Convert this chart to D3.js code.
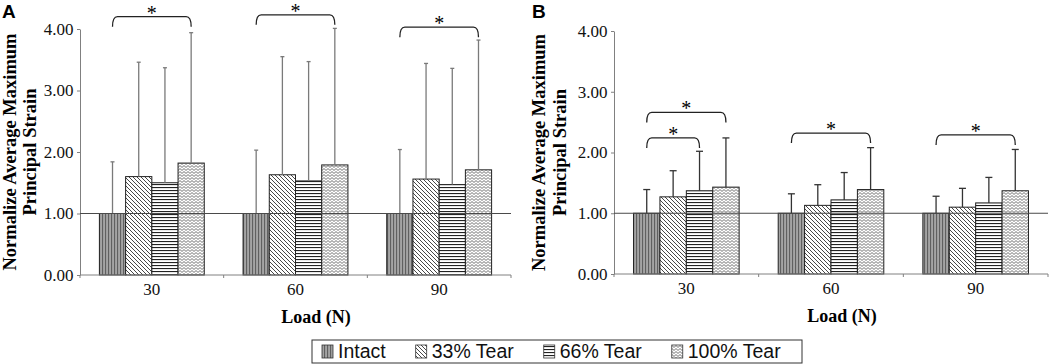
<!DOCTYPE html>
<html>
<head>
<meta charset="utf-8">
<script src="https://cdn.jsdelivr.net/npm/d3@7"></script>
<style>
  body { margin: 0; background: #fff; }
  svg { display: block; }
</style>
</head>
<body>
<div id="chart"></div>
<script>
/* DATA */
const loads = ["30", "60", "90"];
const groups = ["Intact", "33% Tear", "66% Tear", "100% Tear"];
const yTicks = [0, 1, 2, 3, 4];

// panel A: mean and SD per load (rows) and tear group (columns)
const meanA = [
  [1.00, 1.60, 1.50, 1.82],
  [1.00, 1.63, 1.53, 1.79],
  [1.00, 1.56, 1.47, 1.71]
];
const sdA = [
  [0.84, 1.86, 1.87, 2.12],
  [1.03, 1.92, 1.94, 2.22],
  [1.04, 1.88, 1.89, 2.11]
];
// panel B
const meanB = [
  [1.00, 1.27, 1.37, 1.43],
  [1.00, 1.13, 1.22, 1.39],
  [1.00, 1.10, 1.17, 1.37]
];
const sdB = [
  [0.39, 0.43, 0.65, 0.81],
  [0.32, 0.34, 0.45, 0.69],
  [0.28, 0.31, 0.42, 0.68]
];
// significance brackets (group index from -> to, level in strain units)
const sigA = [
  { load: "30", from: 0, to: 3, level: 4.20 },
  { load: "60", from: 0, to: 3, level: 4.23 },
  { load: "90", from: 0, to: 3, level: 4.03 }
];
const sigB = [
  { load: "30", from: 0, to: 2, level: 2.24 },
  { load: "30", from: 0, to: 3, level: 2.66 },
  { load: "60", from: 0, to: 3, level: 2.32 },
  { load: "90", from: 0, to: 3, level: 2.29 }
];

/* CONSTANTS */
const width = 1050, height = 364;
const serif = "'Liberation Serif', 'Times New Roman', serif";
const sans = "'Liberation Sans', Arial, sans-serif";
const fills = ["url(#pIntact)", "url(#p33)", "url(#p66)", "url(#p100)"];

const svg = d3.select("#chart").append("svg")
  .attr("width", width)
  .attr("height", height);

/* PATTERNS */
const defs = svg.append("defs");

const pIntact = defs.append("pattern").attr("id", "pIntact")
  .attr("patternUnits", "userSpaceOnUse").attr("width", 3).attr("height", 3);
pIntact.append("rect").attr("width", 3).attr("height", 3).attr("fill", "#a4a4a4");
pIntact.append("rect").attr("width", 1.1).attr("height", 3).attr("fill", "#606060");

const p33 = defs.append("pattern").attr("id", "p33")
  .attr("patternUnits", "userSpaceOnUse").attr("width", 4).attr("height", 4);
p33.append("rect").attr("width", 4).attr("height", 4).attr("fill", "#fff");
p33.append("path").attr("d", "M-1,-1L5,5M3,-1L5,1M-1,3L1,5")
  .attr("stroke", "#333").attr("stroke-width", 0.9);

const p66 = defs.append("pattern").attr("id", "p66")
  .attr("patternUnits", "userSpaceOnUse").attr("width", 4).attr("height", 3);
p66.append("rect").attr("width", 4).attr("height", 3).attr("fill", "#fff");
p66.append("rect").attr("y", 1).attr("width", 4).attr("height", 1.1).attr("fill", "#222");

const p100 = defs.append("pattern").attr("id", "p100")
  .attr("patternUnits", "userSpaceOnUse").attr("width", 4).attr("height", 3);
p100.append("rect").attr("width", 4).attr("height", 3).attr("fill", "#fff");
p100.append("path").attr("d", "M-1,2.5L0,0.5L2,2.5L4,0.5L5,2.5")
  .attr("fill", "none").attr("stroke", "#6a6a6a").attr("stroke-width", 1);

/* PANELS */
drawPanel({
  letter: "A", letterX: 2, means: meanA, sds: sdA, sig: sigA,
  x0: 80, x1: 511, yTop: 29, yBot: 275,
  titleX: [9.5, 30], loadX: 316, errColor: "#7a7a7a", capW: 4
});
drawPanel({
  letter: "B", letterX: 532, means: meanB, sds: sdB, sig: sigB,
  x0: 614, x1: 1048, yTop: 31, yBot: 274,
  titleX: [538.5, 560], loadX: 842, errColor: "#333", capW: 7
});

function drawPanel(p) {
  const g = svg.append("g");

  const xScale = d3.scaleBand().domain(loads).range([p.x0, p.x1]);
  const xInner = d3.scaleBand().domain(d3.range(groups.length))
    .range([0, xScale.bandwidth()]).paddingOuter(0.74);
  const yScale = d3.scaleLinear().domain([0, 4]).range([p.yBot, p.yTop]);

  // y axis
  const yAxis = d3.axisLeft(yScale).tickValues(yTicks)
    .tickFormat(d3.format(".2f")).tickSizeInner(3).tickSizeOuter(0).tickPadding(3.5);
  const ya = g.append("g").attr("transform", `translate(${p.x0},0)`).call(yAxis);
  ya.selectAll("path, line").attr("stroke", "#808080");
  ya.selectAll("text").attr("font-family", serif).attr("font-size", 17).attr("fill", "#111");

  // bars
  const rows = loads.flatMap((l, i) => groups.map((s, j) => ({
    load: l, j, mean: p.means[i][j], sd: p.sds[i][j]
  })));

  g.selectAll("rect.bar").data(rows).join("rect")
    .attr("class", "bar")
    .attr("x", d => xScale(d.load) + xInner(d.j))
    .attr("width", xInner.bandwidth())
    .attr("y", d => yScale(d.mean))
    .attr("height", d => yScale(0) - yScale(d.mean))
    .attr("fill", d => fills[d.j])
    .attr("stroke", "#222").attr("stroke-width", 1);

  // error bars (upper only)
  const cx = d => xScale(d.load) + xInner(d.j) + xInner.bandwidth() / 2;
  g.selectAll("line.err").data(rows).join("line")
    .attr("class", "err")
    .attr("x1", cx).attr("x2", cx)
    .attr("y1", d => yScale(d.mean)).attr("y2", d => yScale(d.mean + d.sd))
    .attr("stroke", p.errColor).attr("stroke-width", 1.3);
  g.selectAll("line.cap").data(rows).join("line")
    .attr("class", "cap")
    .attr("x1", d => cx(d) - p.capW / 2).attr("x2", d => cx(d) + p.capW / 2)
    .attr("y1", d => yScale(d.mean + d.sd)).attr("y2", d => yScale(d.mean + d.sd))
    .attr("stroke", p.errColor).attr("stroke-width", 1.3);

  // reference line at 1.00
  g.append("line")
    .attr("x1", p.x0).attr("x2", p.x1)
    .attr("y1", yScale(1)).attr("y2", yScale(1))
    .attr("stroke", "#4a4a4a").attr("stroke-width", 1);

  // x axis
  g.append("line")
    .attr("x1", p.x0).attr("x2", p.x1)
    .attr("y1", yScale(0)).attr("y2", yScale(0))
    .attr("stroke", "#808080").attr("stroke-width", 1);
  const bounds = loads.map(l => xScale(l)).concat([p.x1]);
  g.selectAll("line.xt").data(bounds).join("line")
    .attr("class", "xt")
    .attr("x1", d => d).attr("x2", d => d)
    .attr("y1", yScale(0)).attr("y2", yScale(0) + 3)
    .attr("stroke", "#808080");
  g.selectAll("text.xl").data(loads).join("text")
    .attr("class", "xl")
    .attr("x", d => xScale(d) + xScale.bandwidth() / 2)
    .attr("y", yScale(0) + 20)
    .attr("text-anchor", "middle")
    .attr("font-family", serif).attr("font-size", 17).attr("fill", "#111")
    .text(d => d);

  g.append("text")
    .attr("x", p.loadX).attr("y", yScale(0) + 48)
    .attr("text-anchor", "middle")
    .attr("font-family", serif).attr("font-size", 18).attr("font-weight", "bold")
    .text("Load (N)");

  // y title
  const yMid = (p.yTop + p.yBot) / 2;
  ["Normalize Average Maximum", "Principal Strain"].forEach((t, i) => {
    g.append("text")
      .attr("transform", `translate(${p.titleX[i]},${yMid}) rotate(-90)`)
      .attr("text-anchor", "middle")
      .attr("dominant-baseline", "central")
      .attr("font-family", serif).attr("font-size", 18.5).attr("font-weight", "bold")
      .text(t);
  });

  // panel letter
  g.append("text")
    .attr("x", p.letterX).attr("y", 18)
    .attr("font-family", sans).attr("font-size", 19).attr("font-weight", "bold")
    .text(p.letter);

  // significance brackets
  const depth = 10, r = 5;
  p.sig.forEach(s => {
    const xa = xScale(s.load) + xInner(s.from) + xInner.bandwidth() / 2;
    const xb = xScale(s.load) + xInner(s.to) + xInner.bandwidth() / 2;
    const yl = yScale(s.level);
    g.append("path")
      .attr("d", `M${xa},${yl + depth}Q${xa},${yl} ${xa + r},${yl}L${xb - r},${yl}Q${xb},${yl} ${xb},${yl + depth}`)
      .attr("fill", "none").attr("stroke", "#222").attr("stroke-width", 1.3);
    g.append("text")
      .attr("x", (xa + xb) / 2).attr("y", yl + 3)
      .attr("text-anchor", "middle")
      .attr("font-family", serif).attr("font-size", 20)
      .text("*");
  });
}

/* LEGEND */
const legend = svg.append("g");
legend.append("rect")
  .attr("x", 312).attr("y", 340).attr("width", 490).attr("height", 23)
  .attr("fill", "#fff").attr("stroke", "#333").attr("stroke-width", 1);

let lx = 322;
groups.forEach((name, j) => {
  legend.append("rect")
    .attr("x", lx).attr("y", 345).attr("width", 11).attr("height", 13)
    .attr("fill", fills[j]).attr("stroke", "#333").attr("stroke-width", 0.8);
  const t = legend.append("text")
    .attr("x", lx + 16).attr("y", 358)
    .attr("font-family", sans).attr("font-size", 19.5).attr("fill", "#111")
    .text(name);
  lx += 16 + t.node().getComputedTextLength() + 30;
});
</script>
</body>
</html>
